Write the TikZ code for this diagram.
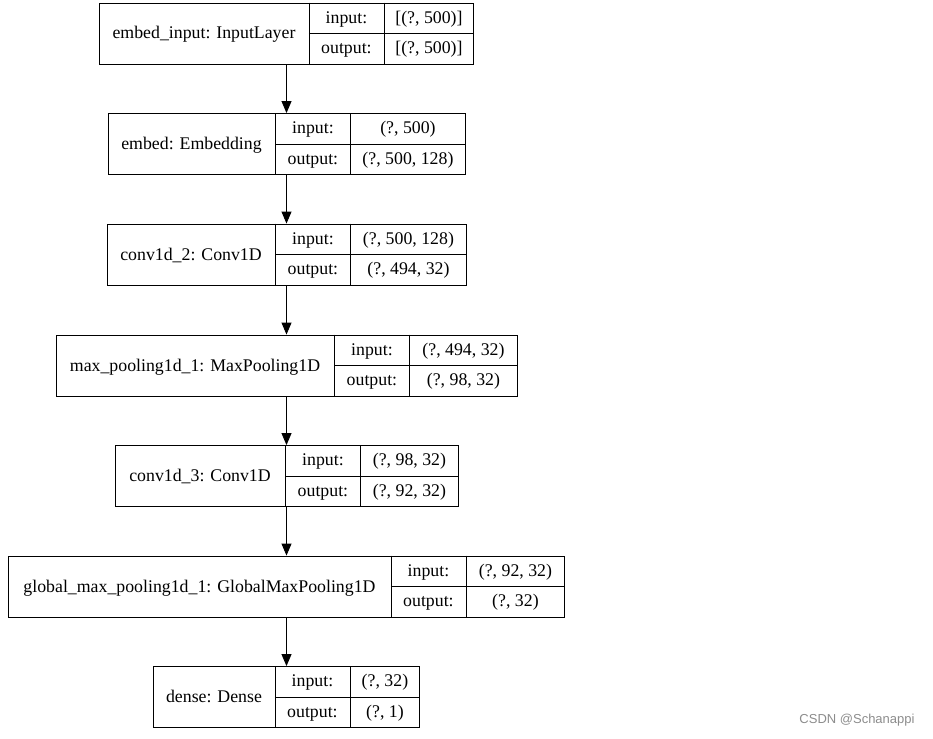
\documentclass[tikz,border=0pt]{standalone}
\usepackage{fontspec}
\setmainfont{Liberation Serif}
\newfontfamily\markfont{Liberation Sans}
\usetikzlibrary{arrows.meta,calc}

\begin{document}
\begin{tikzpicture}[x=1pt,y=-1pt,
    box/.style={draw,line width=0.9pt,minimum height=61pt,inner sep=0pt},
    txt/.style={inner sep=0pt,text height=11pt,text depth=0pt,font=\fontsize{17.8}{20}\selectfont},
    flow/.style={-{Triangle[length=12pt,width=10pt]},line width=0.9pt}]
    \useasboundingbox (0,0) rectangle (933,738);
    \def\cx{286.5}
    % #1 id, #2 y, #3 width, #4 value width, #5 name, #6 input, #7 output
    \def\layer#1#2#3#4#5#6#7{
      \node[box,minimum width=#3pt] (#1) at (\cx,#2) {};
      \path (#1.north east) ++(-#4,0) coordinate (#1-b) ++(-75,0) coordinate (#1-a);
      % Draw cell borders
      \draw[line width=0.9pt] (#1-a) -- (#1-a |- #1.south);
      \draw[line width=0.9pt] (#1-b) -- (#1-b |- #1.south);
      \draw[line width=0.9pt] (#1-a |- #1.center) -- (#1.east);
      % Cell texts
      \node[txt] (#1-n) at ($(#1.west)!.5!(#1-a |- #1.center)$) {#5};
      \node[txt] (#1-ki) at ($(#1-a)!.5!(#1-b)+(0,15.25)$) {input:};
      \node[txt] (#1-ko) at ($(#1-a)!.5!(#1-b)+(0,45.75)$) {output:};
      \node[txt] (#1-vi) at ($(#1-b)!.5!(#1.north east)+(0,15.25)$) {#6};
      \node[txt] (#1-vo) at ($(#1-b)!.5!(#1.north east)+(0,45.75)$) {#7};
    }
    \layer{embedinput}{33.5}{374}{90}{embed\_input: InputLayer}{[(?, 500)]}{[(?, 500)]}
    \layer{embed}{144}{357}{115}{embed: Embedding}{(?, 500)}{(?, 500, 128)}
    \layer{convA}{254.5}{359}{116}{conv1d\_2: Conv1D}{(?, 500, 128)}{(?, 494, 32)}
    \layer{maxpool}{365.5}{461}{108}{max\_pooling1d\_1: MaxPooling1D}{(?, 494, 32)}{(?, 98, 32)}
    \layer{convB}{476}{343}{98}{conv1d\_3: Conv1D}{(?, 98, 32)}{(?, 92, 32)}
    \layer{globalpool}{586.5}{556}{99}{global\_max\_pooling1d\_1: GlobalMaxPooling1D}{(?, 92, 32)}{(?, 32)}
    \layer{dense}{697}{266}{70}{dense: Dense}{(?, 32)}{(?, 1)}
    % Draw connections
    \draw[flow] (embedinput) -- (embed);
    \draw[flow] (embed) -- (convA);
    \draw[flow] (convA) -- (maxpool);
    \draw[flow] (maxpool) -- (convB);
    \draw[flow] (convB) -- (globalpool);
    \draw[flow] (globalpool) -- (dense);
    \node[inner sep=0pt,text=black!45,font=\markfont\fontsize{13}{15}\selectfont] (mark) at (857,720) {CSDN @Schanappi};
\end{tikzpicture}
\end{document}
